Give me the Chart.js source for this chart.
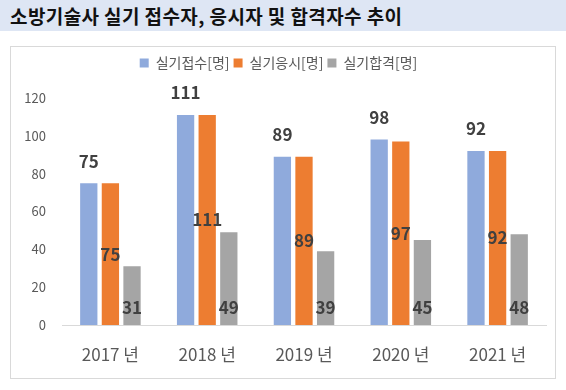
<!DOCTYPE html>
<html>
<head>
<meta charset="utf-8">
<script src="https://cdn.jsdelivr.net/npm/chart.js@4"></script>
<style>
    body { margin: 0; background: #fff; width: 566px; height: 390px; position: relative; font-family: "Noto Sans CJK KR", sans-serif; }
    #title { position: absolute; left: 0; top: 0; width: 566px; height: 31px; background: #dee6f4; }
    #title span { position: absolute; left: 10px; top: 2px; font-size: 19px; font-weight: bold; color: #111; letter-spacing: 0.4px; white-space: nowrap; }
    #box { position: absolute; left: 10px; top: 46px; width: 544px; height: 331px; border: 1px solid #d9d9d9; }
</style>
</head>
<body>
<div id="title"><span>소방기술사 실기 접수자, 응시자 및 합격자수 추이</span></div>
<div id="box"><canvas id="bar-chart-fire"></canvas></div>
<script>
let years = ["2017 년", "2018 년", "2019 년", "2020 년", "2021 년"];
let seriesNames = ["실기접수[명]", "실기응시[명]", "실기합격[명]"];
let applied = [75, 111, 89, 98, 92];
let tookExam = [75, 111, 89, 97, 92];
let passed = [31, 49, 39, 45, 48];
let colorsBase = ["#8faadc", "#ed7d31", "#a5a5a5"];

// value labels: above bar, middle of bar, near the base
const valueLabels = {
    id: 'valueLabels',
    afterDatasetsDraw(chart) {
        let ctx = chart.ctx;
        ctx.save();
        ctx.font = "bold 17px 'Noto Sans CJK KR', sans-serif";
        ctx.fillStyle = "#404040";
        ctx.textAlign = "center";
        ctx.textBaseline = "middle";
        chart.data.datasets.forEach(function (ds, i) {
            let meta = chart.getDatasetMeta(i);
            meta.data.forEach(function (bar, j) {
                let y;
                if (ds.labelAt === 'top') y = bar.y - 22;
                else if (ds.labelAt === 'center') y = (bar.y + bar.base) / 2;
                else y = bar.base - 17;
                ctx.fillText(ds.data[j], bar.x, y);
            });
        });
        ctx.restore();
    }
};

const legendHeight = {
    id: 'legendHeight',
    beforeInit(chart) {
        let fit = chart.legend.fit;
        chart.legend.fit = function () {
            fit.call(this);
            this.height = 46;
        };
    }
};

new Chart(document.getElementById("bar-chart-fire"), {
    type: 'bar',
    data: {
        labels: years,
        datasets: [
            { label: seriesNames[0], data: applied, backgroundColor: colorsBase[0], labelAt: 'top' },
            { label: seriesNames[1], data: tookExam, backgroundColor: colorsBase[1], labelAt: 'center' },
            { label: seriesNames[2], data: passed, backgroundColor: colorsBase[2], labelAt: 'base' }
        ]
    },
    options: {
        responsive: true,
        maintainAspectRatio: false,
        animation: false,
        categoryPercentage: 0.67,
        barPercentage: 0.8,
        layout: { padding: { top: 5, right: 9, left: 0, bottom: 0 } },
        plugins: {
            tooltip: { enabled: false },
            legend: {
                position: 'top',
                labels: {
                    boxWidth: 9,
                    boxHeight: 9,
                    padding: 4,
                    color: "#595959",
                    font: { size: 14, family: "'Noto Sans CJK KR', sans-serif" }
                }
            }
        },
        scales: {
            x: {
                grid: { display: false, drawTicks: false },
                border: { color: "#d9d9d9" },
                ticks: { color: "#595959", padding: 19, font: { size: 17, family: "'Noto Sans CJK KR', sans-serif" } },
                afterFit: function (scale) { scale.height = 53; }
            },
            y: {
                min: 0,
                max: 120,
                grid: { display: false, drawTicks: false },
                border: { display: false },
                ticks: { stepSize: 20, color: "#595959", padding: 16, font: { size: 13, family: "'Noto Sans CJK KR', sans-serif" } },
                afterFit: function (scale) { scale.width = 51; }
            }
        }
    },
    plugins: [valueLabels, legendHeight]
});
</script>
</body>
</html>
